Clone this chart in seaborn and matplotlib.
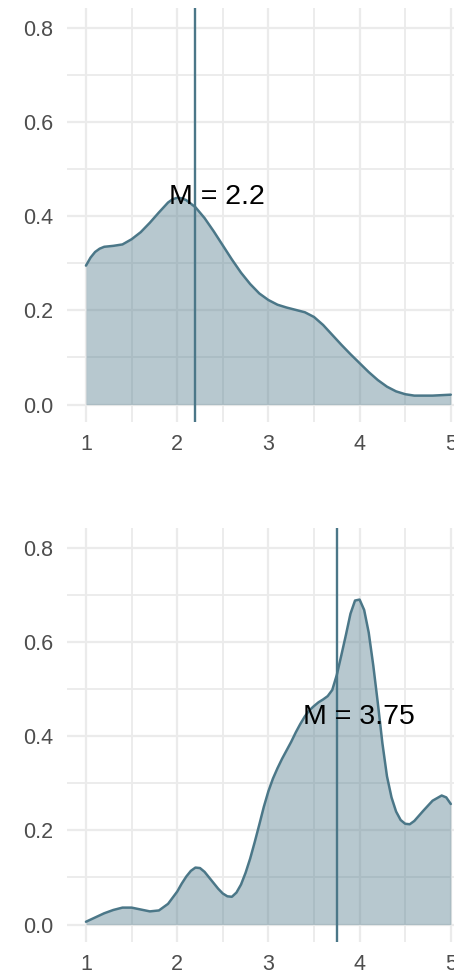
import matplotlib
matplotlib.use("Agg")
import matplotlib.pyplot as plt
import seaborn as sns
import pandas as pd
from matplotlib.ticker import MultipleLocator, FixedLocator

# ---- data ----
x_top = [1.0, 1.05, 1.1, 1.15, 1.2, 1.3, 1.4, 1.5, 1.6, 1.7, 1.8, 1.9, 1.95,
         2.0, 2.05, 2.1, 2.2, 2.3, 2.4, 2.5, 2.6, 2.7, 2.8, 2.9,
         3.0, 3.1, 3.2, 3.3, 3.4, 3.5, 3.6, 3.7, 3.8, 3.9,
         4.0, 4.1, 4.2, 4.3, 4.4, 4.5, 4.6, 4.7, 4.8, 4.9, 5.0]
density_top = [0.295, 0.312, 0.324, 0.331, 0.335, 0.337, 0.340, 0.351, 0.366, 0.386, 0.408, 0.429, 0.436,
               0.439, 0.438, 0.434, 0.419, 0.396, 0.368, 0.338, 0.308, 0.280, 0.256, 0.236,
               0.222, 0.212, 0.206, 0.201, 0.196, 0.186, 0.169, 0.148, 0.127, 0.107,
               0.088, 0.069, 0.052, 0.038, 0.028, 0.022, 0.019, 0.019, 0.019, 0.020, 0.021]

x_bottom = [1.0, 1.1, 1.2, 1.3, 1.4, 1.5, 1.6, 1.7, 1.8, 1.9,
            2.0, 2.05, 2.1, 2.15, 2.2, 2.25, 2.3, 2.35, 2.4, 2.45, 2.5, 2.55, 2.6, 2.65,
            2.7, 2.75, 2.8, 2.85, 2.9, 2.95, 3.0, 3.05, 3.1, 3.15, 3.2, 3.25, 3.3, 3.35,
            3.4, 3.45, 3.5, 3.55, 3.6, 3.65, 3.7, 3.75, 3.8, 3.85, 3.9, 3.95, 4.0, 4.05,
            4.1, 4.15, 4.2, 4.25, 4.3, 4.35, 4.4, 4.45, 4.5, 4.55, 4.6, 4.7, 4.8, 4.9, 4.95, 5.0]
density_bottom = [0.006, 0.015, 0.024, 0.031, 0.036, 0.036, 0.032, 0.028, 0.030, 0.044,
                  0.070, 0.087, 0.102, 0.114, 0.121, 0.120, 0.112, 0.100, 0.088, 0.076, 0.066, 0.060, 0.059, 0.068,
                  0.085, 0.110, 0.140, 0.175, 0.212, 0.250, 0.283, 0.310, 0.332, 0.352, 0.370, 0.388, 0.408, 0.426,
                  0.442, 0.455, 0.464, 0.472, 0.478, 0.485, 0.498, 0.530, 0.572, 0.615, 0.660, 0.688, 0.690, 0.668,
                  0.620, 0.550, 0.470, 0.385, 0.315, 0.270, 0.240, 0.222, 0.214, 0.213, 0.220, 0.242, 0.263, 0.274, 0.270, 0.256]

means = [2.2, 3.75]
mean_labels = ["M = 2.2", "M = 3.75"]
x_ticks = [1, 2, 3, 4, 5]
x_tick_labels = ["1", "2", "3", "4", "5"]
y_ticks = [0.0, 0.2, 0.4, 0.6, 0.8]
y_tick_labels = ["0.0", "0.2", "0.4", "0.6", "0.8"]

LINE = "#4B7788"
GRID = "#EBEBEB"

sns.set_theme(style="whitegrid")
plt.rcParams["font.family"] = ["Liberation Sans", "DejaVu Sans"]

fig = plt.figure(figsize=(4.54, 9.76), dpi=100)
W, H = 454.0, 976.0
panels = [
    (x_top, density_top, means[0], mean_labels[0], 8, 422),
    (x_bottom, density_bottom, means[1], mean_labels[1], 528, 942),
]

for xs, dens, m, lab, top_px, bot_px in panels:
    ax = fig.add_axes([67 / W, (H - bot_px) / H, (454 - 67) / W, (bot_px - top_px) / H])
    df = pd.DataFrame({"x": xs, "density": dens})
    ax.fill_between(df["x"], 0, df["density"], color=LINE, alpha=0.4, linewidth=0, zorder=2)
    sns.lineplot(data=df, x="x", y="density", ax=ax, color=LINE, linewidth=1.8, zorder=3)
    ax.axvline(m, color=LINE, linewidth=1.7, zorder=4)
    ax.text(m + 0.24, 0.426, lab, ha="center", va="baseline", fontsize=20.5,
            color="black", zorder=5)

    ax.set_xlim(0.792, 5.035)
    ax.set_ylim(-0.037, 0.842)
    ax.xaxis.set_major_locator(FixedLocator(x_ticks))
    ax.set_xticklabels(x_tick_labels)
    ax.yaxis.set_major_locator(FixedLocator(y_ticks))
    ax.set_yticklabels(y_tick_labels)
    ax.xaxis.set_minor_locator(MultipleLocator(0.5))
    ax.yaxis.set_minor_locator(MultipleLocator(0.1))
    ax.grid(which="major", color=GRID, linewidth=1.6, zorder=0)
    ax.grid(which="minor", color=GRID, linewidth=1.3, zorder=0)
    ax.set_axisbelow(True)
    ax.set_facecolor("white")
    for s in ax.spines.values():
        s.set_visible(False)
    ax.tick_params(axis="both", which="both", length=0, labelsize=15.5, labelcolor="#4D4D4D")
    ax.tick_params(axis="y", pad=10)
    ax.tick_params(axis="x", pad=9)
    ax.set_xlabel("")
    ax.set_ylabel("")

fig.savefig("out.png", dpi=100, facecolor="white")
